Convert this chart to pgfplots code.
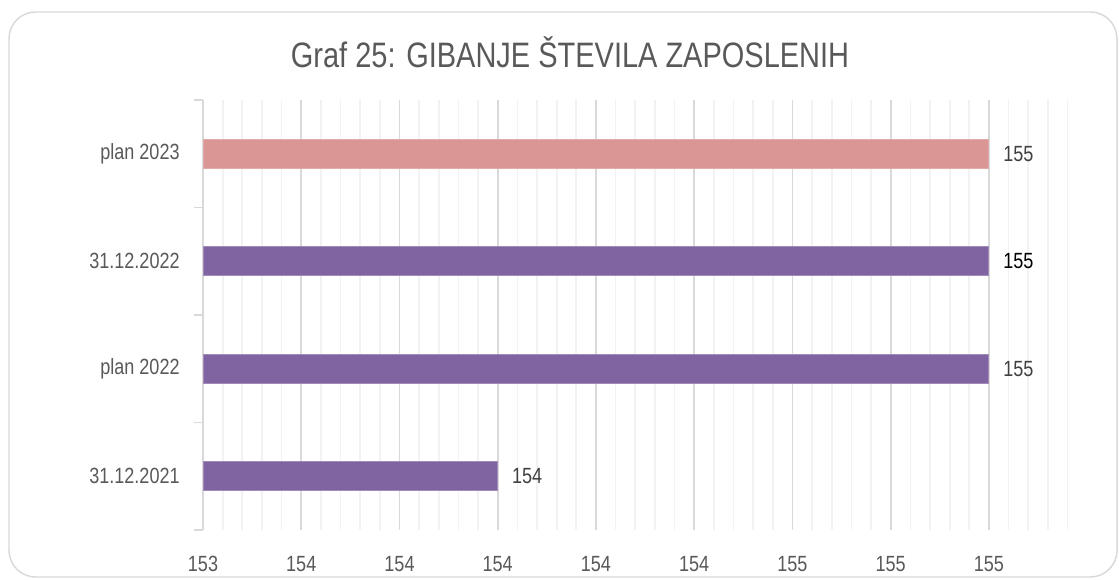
\documentclass[border=0pt]{standalone}
\usepackage{fontspec}
\setmainfont{Liberation Sans}[FakeStretch=0.82]
\usepackage{pgfplots}
\pgfplotsset{compat=1.18}
\definecolor{barpurple}{HTML}{8064A2}
\definecolor{barpink}{HTML}{D99694}
\definecolor{txtgray}{HTML}{595959}
\definecolor{lblgray}{HTML}{404040}
\definecolor{majgrid}{HTML}{D9D9D9}
\definecolor{mingrid}{HTML}{F2F2F2}
\newcommand{\lblfont}{\fontsize{16.5pt}{19pt}\selectfont}
\begin{document}
\begin{tikzpicture}
\path[use as bounding box] (0,0) rectangle (839.25pt,435pt);
\draw[majgrid, line width=1.1pt, rounded corners=20pt] (6.75pt,2.25pt) rectangle (837.75pt,426pt);
\node[anchor=base, text=txtgray, font=\fontsize{26.5pt}{30pt}\selectfont] at (427.5pt,384pt) {Graf 25: GIBANJE ŠTEVILA ZAPOSLENIH};
\begin{axis}[
  at={(152.25pt,37.5pt)}, anchor=south west,
  scale only axis, width=650.25pt, height=322.5pt,
  xbar, bar shift=0pt, bar width=21.75pt,
  xmin=153.4, xmax=155.165,
  ymin=-0.5, ymax=3.5,
  axis x line*=bottom, axis y line*=left,
  x axis line style={draw=none},
  y axis line style={majgrid, line width=1.3pt},
  xtick={153.4,153.6,153.8,154,154.2,154.4,154.6,154.8,155},
  xticklabels={153,154,154,154,154,154,155,155,155},
  minor xtick={153.44,153.48,153.52,153.56,153.64,153.68,153.72,153.76,153.84,153.88,153.92,153.96,154.04,154.08,154.12,154.16,154.24,154.28,154.32,154.36,154.44,154.48,154.52,154.56,154.64,154.68,154.72,154.76,154.84,154.88,154.92,154.96,155.04,155.08,155.12,155.16},
  xmajorgrids, xminorgrids,
  major x grid style={majgrid, line width=1.3pt},
  minor x grid style={mingrid, line width=1.3pt},
  x tick style={draw=none},
  xticklabel style={font=\lblfont, text=txtgray, yshift=-16pt},
  ytick={0,1,2,3},
  yticklabels={31.12.2021,plan 2022,31.12.2022,plan 2023},
  minor ytick={-0.5,0.5,1.5,2.5,3.5},
  tick align=outside,
  major y tick style={draw=none},
  minor y tick style={majgrid, line width=1.3pt},
  minor tick length=6.5pt,
  major tick length=0pt,
  yticklabel style={font=\lblfont, text=txtgray, xshift=-14pt},
  /pgf/number format/assume math mode=true,
  point meta=x,
  nodes near coords,
  every node near coord/.append style={font=\lblfont, text=lblgray, anchor=west, xshift=7pt},
]
\addplot[fill=barpurple, draw=barpurple!75!white, line width=0.8pt] coordinates {(154,0) (155,1)};
\addplot[fill=barpurple, draw=barpurple!75!white, line width=0.8pt, every node near coord/.append style={text=black}] coordinates {(155,2)};
\addplot[fill=barpink, draw=barpink!80!white, line width=0.8pt] coordinates {(155,3)};
\end{axis}
\end{tikzpicture}
\end{document}
